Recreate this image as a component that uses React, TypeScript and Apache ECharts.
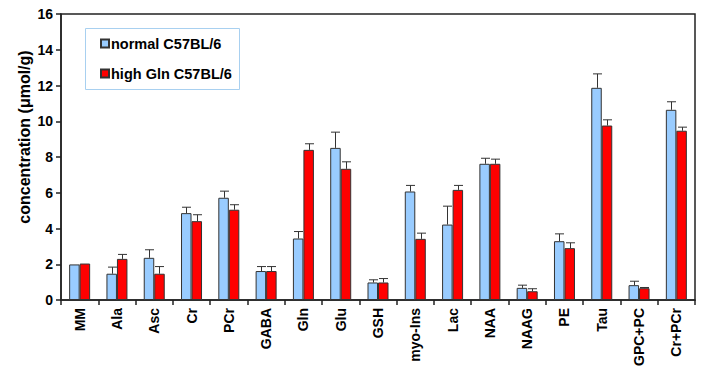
import React, { useEffect, useRef } from "react";
import * as echarts from "echarts";

const categories = ["MM", "Ala", "Asc", "Cr", "PCr", "GABA", "Gln", "Glu", "GSH", "myo-Ins", "Lac", "NAA", "NAAG", "PE", "Tau", "GPC+PC", "Cr+PCr"];
const normalValues = [1.99, 1.47, 2.36, 4.86, 5.72, 1.62, 3.44, 8.51, 0.98, 6.07, 4.22, 7.62, 0.68, 3.29, 11.87, 0.83, 10.64];
const normalErrTop = [1.99, 1.84, 2.81, 5.19, 6.09, 1.87, 3.83, 9.39, 1.13, 6.41, 5.25, 7.93, 0.83, 3.7, 12.65, 1.05, 11.09];
const highValues = [2.04, 2.3, 1.47, 4.41, 5.05, 1.62, 8.4, 7.34, 0.98, 3.42, 6.16, 7.62, 0.49, 2.9, 9.76, 0.66, 9.47];
const highErrTop = [2.04, 2.55, 1.87, 4.77, 5.33, 1.87, 8.74, 7.73, 1.2, 3.74, 6.41, 7.88, 0.63, 3.2, 10.08, 0.7, 9.67];
const seriesNames = ["normal C57BL/6", "high Gln C57BL/6"];
const yTicks = { min: 0, max: 16, interval: 2 };

const FONT = "Arial, 'Liberation Sans', sans-serif";
const BAR_W = 10.5;

function errSeries(vals: number[], tops: number[], offset: number) {
  return {
    type: "custom",
    silent: true,
    z: 5,
    data: vals.map((v, i) => [i, v, tops[i]]),
    renderItem: (params: any, api: any) => {
      const i = api.value(0);
      const v = api.value(1);
      const t = api.value(2);
      if (t <= v) return { type: "group", children: [] };
      const p0 = api.coord([i, v]);
      const p1 = api.coord([i, t]);
      const x = Math.round(p0[0] + offset) + 0.5;
      const style = { stroke: "#333", lineWidth: 1 };
      return {
        type: "group",
        children: [
          { type: "line", shape: { x1: x, y1: p0[1], x2: x, y2: p1[1] }, style },
          { type: "line", shape: { x1: x - 4.5, y1: p1[1], x2: x + 4.5, y2: p1[1] }, style },
        ],
      };
    },
  };
}

export default function App() {
  const ref = useRef<HTMLDivElement>(null);
  useEffect(() => {
    const chart = echarts.init(ref.current!, null, { renderer: "svg" });
    chart.setOption({
      animation: false,
      textStyle: { fontFamily: FONT },
      grid: {
        left: 61,
        right: 9,
        top: 14,
        bottom: 66,
        containLabel: false,
        outerBoundsMode: "none",
        show: true,
        borderColor: "#222",
        borderWidth: 1.5,
        backgroundColor: "transparent",
      },
      legend: {
        data: seriesNames,
        orient: "vertical",
        left: 100,
        top: 36,
        itemWidth: 8,
        itemHeight: 8,
        itemGap: 15,
        padding: 0,
        icon: "rect",
        textStyle: { fontFamily: FONT, fontWeight: "bold", fontSize: 14.5, color: "#000", padding: [0, 0, 0, -3] },
      },
      graphic: [
        {
          type: "rect",
          left: 85,
          top: 28,
          shape: { width: 154, height: 61 },
          style: { fill: "transparent", stroke: "#a8d0f0", lineWidth: 1 },
          z: 1,
        },
        {
          type: "text",
          x: 24,
          y: 137,
          rotation: Math.PI / 2,
          style: {
            text: "concentration (μmol/g)",
            font: "bold 16px " + FONT,
            fill: "#000",
            align: "center",
            verticalAlign: "middle",
          },
        },
      ],
      xAxis: {
        type: "category",
        data: categories,
        axisLine: { lineStyle: { color: "#222", width: 1.5 } },
        axisTick: { show: true, alignWithLabel: false, length: 5, inside: false, lineStyle: { color: "#222", width: 1.5 } },
        axisLabel: {
          rotate: 90,
          interval: 0,
          margin: 8,
          fontFamily: FONT,
          fontWeight: "bold",
          fontSize: 14,
          color: "#000",
        },
      },
      yAxis: {
        type: "value",
        min: yTicks.min,
        max: yTicks.max,
        interval: yTicks.interval,
        splitLine: { show: false },
        axisLine: { show: true, lineStyle: { color: "#222", width: 1.5 } },
        axisTick: { show: true, length: 5, lineStyle: { color: "#222", width: 1.5 } },
        axisLabel: { fontFamily: FONT, fontWeight: "bold", fontSize: 14, color: "#000", margin: 8 },
      },
      series: [
        {
          name: seriesNames[0],
          type: "bar",
          data: normalValues,
          barWidth: BAR_W,
          barGap: "0%",
          itemStyle: { color: "#99ccff", borderColor: "#333", borderWidth: 1 },
        },
        {
          name: seriesNames[1],
          type: "bar",
          data: highValues,
          barWidth: BAR_W,
          barGap: "0%",
          itemStyle: { color: "#ff0000", borderColor: "#333", borderWidth: 1 },
        },
        errSeries(normalValues, normalErrTop, -BAR_W / 2),
        errSeries(highValues, highErrTop, BAR_W / 2),
      ],
    });
    return () => chart.dispose();
  }, []);
  return <div ref={ref} style={{ width: 704, height: 366, position: "absolute", left: 0, top: 0 }} />;
}
